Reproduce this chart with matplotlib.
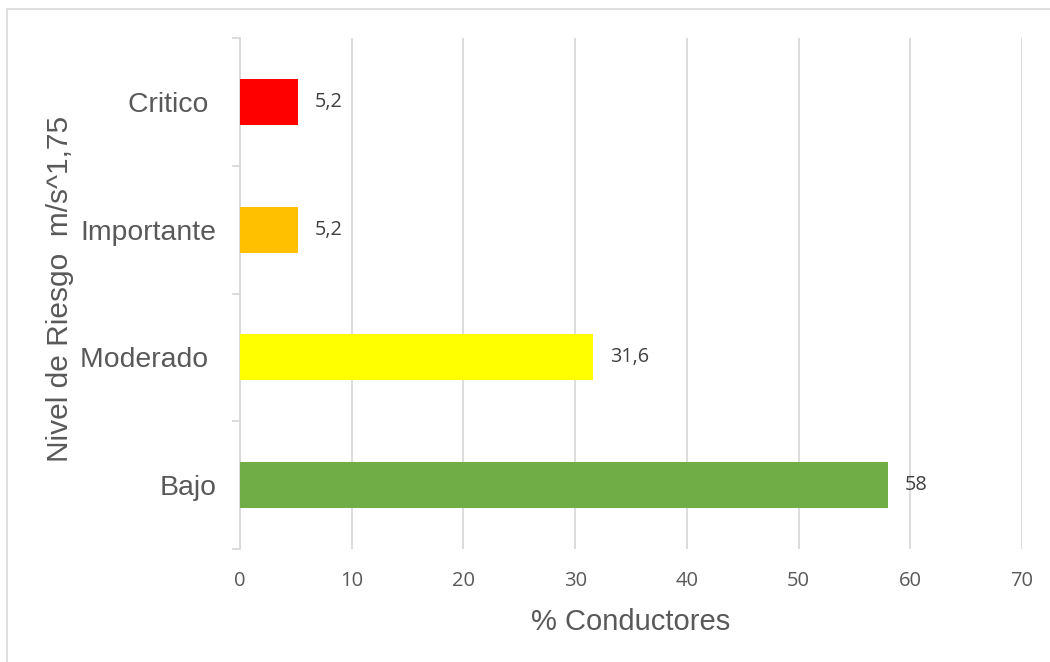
import matplotlib.pyplot as plt
from matplotlib.patches import Rectangle

# Datos del grafico
niveles = ["Bajo", "Moderado ", "Importante", "Critico "]
porcentajes = [58, 31.6, 5.2, 5.2]
colores = ["#70AD47", "#FFFF00", "#FFC000", "#FF0000"]
etiquetas = ["58", "31,6", "5,2", "5,2"]
ticks_x = [0, 10, 20, 30, 40, 50, 60, 70]

fig = plt.figure(figsize=(10.5, 6.62), dpi=100)
ax = fig.add_axes([240 / 1050, 1 - 549 / 662, (1022 - 240) / 1050, (549 - 38) / 662])

# Marco exterior del grafico (se sale por la derecha y abajo)
fig.patches.append(Rectangle((7 / 1050, -0.05), 1.1, 1 - 9 / 662 + 0.05,
                             transform=fig.transFigure, fill=False,
                             edgecolor="#D9D9D9", linewidth=1.2))

pos = list(range(len(niveles)))
ax.barh(pos, porcentajes, height=0.36, color=colores, zorder=3)

for p, v, t in zip(pos, porcentajes, etiquetas):
    ax.text(v + 1.5, p, t, va="center", ha="left", fontsize=14.3,
            family="Open Sans", color="#404040")

ax.set_xlim(0, 70)
ax.set_ylim(-0.5, 3.5)
ax.set_xticks(ticks_x)
ax.set_xticklabels([str(t) for t in ticks_x], family="Open Sans",
                   fontsize=14.5, color="#595959")
ax.tick_params(axis="x", length=0, pad=16)
ax.grid(axis="x", color="#D9D9D9", linewidth=1.3, zorder=0)

ax.set_yticks(pos)
ax.set_yticklabels(niveles, family="Liberation Sans",
                   fontsize=20.4, color="#595959")
ax.set_yticks([-0.5, 0.5, 1.5, 2.5, 3.5], minor=True)
ax.tick_params(axis="y", which="major", length=0, pad=17)
ax.tick_params(axis="y", which="minor", length=6, color="#D9D9D9", width=1.3)

for s in ["top", "right", "bottom"]:
    ax.spines[s].set_visible(False)
ax.spines["left"].set_color("#D9D9D9")
ax.spines["left"].set_linewidth(1.3)

ax.set_xlabel("% Conductores", family="Liberation Sans", fontsize=21,
              color="#595959", labelpad=12)
ax.set_ylabel("Nivel de Riesgo  m/s^1,75", family="Liberation Sans",
              fontsize=21.5, color="#595959")
ax.yaxis.set_label_coords(-0.212, 0.509)

fig.savefig("out.png", dpi=100)
